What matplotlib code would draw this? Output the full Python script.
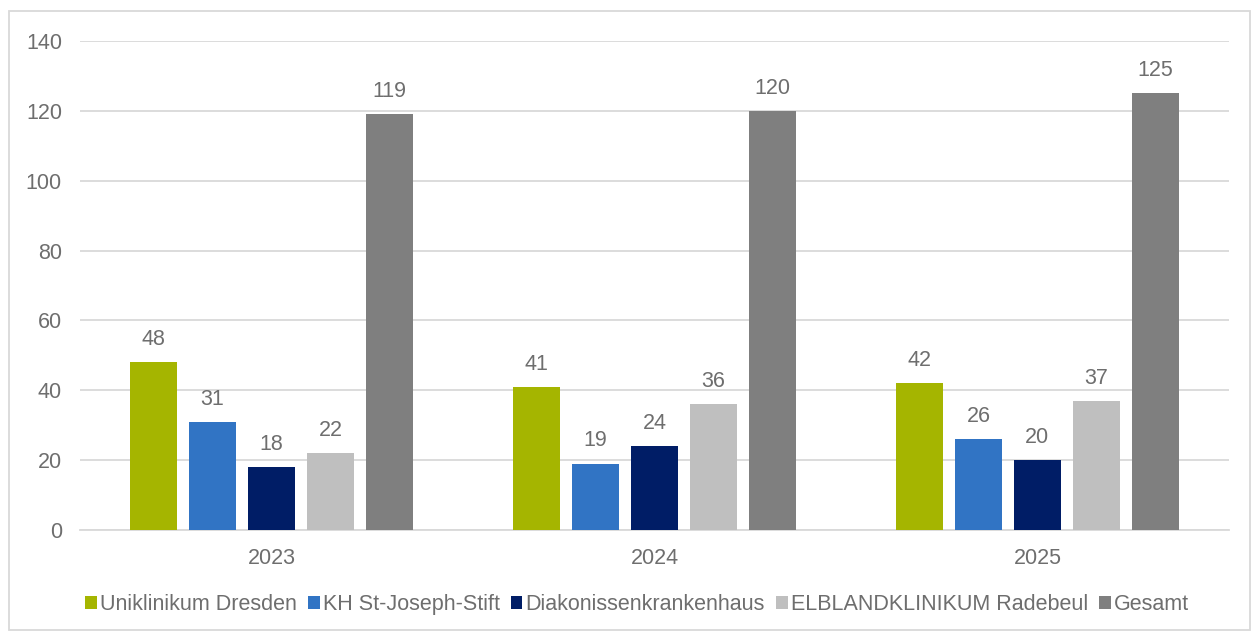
import numpy as np
import matplotlib.pyplot as plt
from matplotlib.patches import Rectangle

years = ['2023', '2024', '2025']
series = ['Uniklinikum Dresden', 'KH St-Joseph-Stift', 'Diakonissenkrankenhaus',
          'ELBLANDKLINIKUM Radebeul', 'Gesamt']
uniklinikum = [48, 41, 42]
joseph = [31, 19, 26]
diakonissen = [18, 24, 20]
elbland = [22, 36, 37]
gesamt = [119, 120, 125]
colors = ['#A5B500', '#3174C4', '#001D66', '#BFBFBF', '#7F7F7F']

plt.rcParams['font.family'] = ['Liberation Sans', 'DejaVu Sans']
txt = '#6E6E6E'
fs = 15.5

fig = plt.figure(figsize=(12.54, 6.31), dpi=100)
ax = fig.add_axes([0.0638, 0.160, 0.9162, 0.775])

x = np.arange(len(years))
width = 0.1227
step = 0.154
values = [uniklinikum, joseph, diakonissen, elbland, gesamt]
for i, (name, vals, c) in enumerate(zip(series, values, colors)):
    pos = x + (i - 2) * step
    bars = ax.bar(pos, vals, width, color=c, label=name, zorder=3)
    for b, v in zip(bars, vals):
        ax.text(b.get_x() + b.get_width() / 2, v + 3.5, str(v), ha='center', va='bottom',
                fontsize=fs, color=txt)

ax.set_xlim(-0.5, 2.5)
ax.set_ylim(0, 140)
ax.set_yticks(range(0, 141, 20))
ax.set_xticks(x)
ax.set_xticklabels(years)
ax.yaxis.grid(True, color='#D9D9D9', linewidth=1.3, zorder=0)
for s in ['top', 'right', 'left']:
    ax.spines[s].set_visible(False)
ax.spines['bottom'].set_color('#D9D9D9')
ax.spines['bottom'].set_linewidth(1.3)
ax.tick_params(axis='both', length=0, labelsize=fs, labelcolor=txt)
ax.tick_params(axis='y', pad=13)
ax.tick_params(axis='x', pad=13)

fig.legend(loc='center', bbox_to_anchor=(0.508, 0.042), ncol=5, frameon=False,
           fontsize=fs, labelcolor=txt, handlelength=0.55, handleheight=0.55,
           handletextpad=0.15, columnspacing=0.5)

fig.patches.append(Rectangle((9 / 1254, 1 / 631), 1241 / 1254, 619 / 631,
                             transform=fig.transFigure, fill=False,
                             edgecolor='#D9D9D9', linewidth=1.3))

fig.savefig('out.png', dpi=100)
